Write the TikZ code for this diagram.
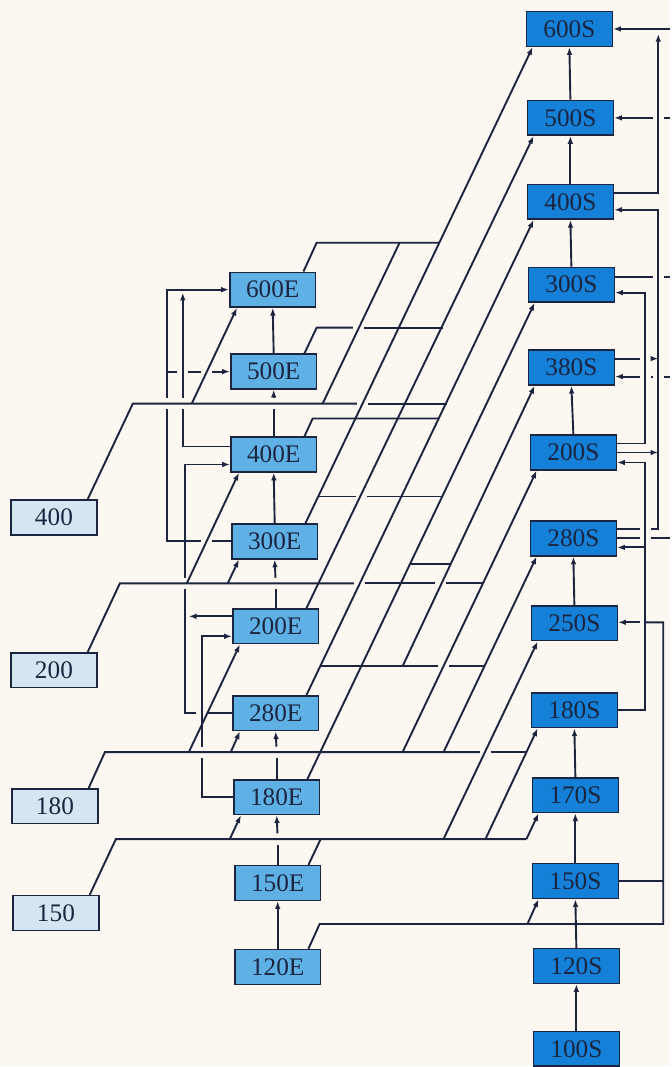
\documentclass[tikz,border=0pt]{standalone}
\usepackage{fontspec}
\setmainfont{Liberation Serif}
\usetikzlibrary{arrows.meta,calc}
\definecolor{paper}{HTML}{FCF7F0}
\definecolor{ink}{HTML}{1B2540}
\definecolor{sblue}{HTML}{1580D8}
\definecolor{eblue}{HTML}{5FB1E5}
\definecolor{lblue}{HTML}{D3E6F2}
\begin{document}
\begin{tikzpicture}[x=0.025cm, y=-0.025cm,
  every node/.style={font=\fontsize{18}{21}\selectfont, text=ink},
  box/.style={draw=ink, line width=1.1pt, minimum width=2.15cm, minimum height=0.87cm, inner sep=0pt},
  sbox/.style={box, fill=sblue},
  ebox/.style={box, fill=eblue},
  lbox/.style={box, fill=lblue},
  wire/.style={draw=ink, line width=1.35pt},
  feed/.style={wire, -{Latex[length=5.5pt,width=4pt]}},
  cutend/.style={shorten >=4pt},
  cutstart/.style={shorten <=4pt}]
  % Paper
  \fill[paper] (0,0) rectangle (671,1067);
  % S column
  \node[sbox] (s600) at (570,29) {600S};
  \node[sbox] (s500) at (571,118) {500S};
  \node[sbox] (s400) at (571,202) {400S};
  \node[sbox] (s300) at (572,285) {300S};
  \node[sbox] (s380) at (572,368) {380S};
  \node[sbox] (s200) at (574,453) {200S};
  \node[sbox] (s280) at (574,539) {280S};
  \node[sbox] (s250) at (575,624) {250S};
  \node[sbox] (s180) at (575,711) {180S};
  \node[sbox] (s170) at (576,796) {170S};
  \node[sbox] (s150) at (576,882) {150S};
  \node[sbox] (s120) at (577,967) {120S};
  \node[sbox] (s100) at (577,1050) {100S};
  % E column
  \node[ebox] (e600) at (273,290) {600E};
  \node[ebox] (e500) at (274,372) {500E};
  \node[ebox] (e400) at (274,455) {400E};
  \node[ebox] (e300) at (275,542) {300E};
  \node[ebox] (e200) at (276,627) {200E};
  \node[ebox] (e280) at (276,714) {280E};
  \node[ebox] (e180) at (277,798) {180E};
  \node[ebox] (e150) at (278,884) {150E};
  \node[ebox] (e120) at (278,968) {120E};
  % Entry levels
  \node[lbox] (l400) at (54,518) {400};
  \node[lbox] (l200) at (54,671) {200};
  \node[lbox] (l180) at (55,807) {180};
  \node[lbox] (l150) at (56,914) {150};

  % Junctions
  \coordinate (m600) at (440,243);
  \coordinate (m500) at (443,328);
  \coordinate (m400) at (439,419);
  \coordinate (m300) at (443,497);
  \coordinate (n300) at (318,497);
  \coordinate (n280) at (321,667);
  \coordinate (p280) at (485,667);
  \coordinate (q400) at (447,404);
  \coordinate (q200) at (484,584);
  \coordinate (q180) at (527,753);
  \coordinate (k380) at (403,667);
  \coordinate (k200) at (403,753);
  \coordinate (k280) at (444,753);
  \coordinate (k250) at (444,840);
  \coordinate (k180) at (486,840);
  \coordinate (k170) at (527,840);
  \coordinate (k150) at (528,925);
  \coordinate (n150) at (321,840);
  \coordinate (r250) at (664,925);
  \coordinate (edge600) at (671,29);
  \coordinate (edge500) at (671,118);
  \coordinate (edge300) at (671,277);
  \coordinate (edge380) at (671,377);
  \coordinate (edge280) at (671,539);

  % Vertical chains
  \foreach \a/\b in {s100/s120, s120/s150, s150/s170, s170/s180, s250/s280,
                     s200/s380, s300/s400, s400/s500, s500/s600,
                     e120/e150, e300/e400, e500/e600}
    \draw[feed] (\a.north) -- (\b.south);
  \foreach \a/\b/\y in {e150/e180/840, e180/e280/753, e200/e300/584, e400/e500/404} {
    \draw[wire, cutend] (\a.north) -- (\a.north |- 0,\y);
    \draw[feed, cutstart] (\a.north |- 0,\y) -- (\b.south);
  }

  % Long diagonals into the S column
  \draw[feed] ($(e300.north east)+(-13,0)$) -- ($(s600.south west)+(7,0)$);
  \draw[feed] ($(e200.north east)+(-13,0)$) -- ($(s500.south west)+(7,0)$);
  \draw[feed] ($(e280.north east)+(-13,0)$) -- ($(s400.south west)+(7,0)$);
  \draw[feed] ($(e180.north east)+(-13,0)$) -- ($(s300.south west)+(7,0)$);
  \draw[feed] (k380) -- ($(s380.south west)+(7,0)$);
  \draw[feed] (k200) -- ($(s200.south west)+(7,0)$);
  \draw[feed] (k280) -- ($(s280.south west)+(7,0)$);
  \draw[feed] (k250) -- ($(s250.south west)+(7,0)$);
  \draw[feed] (k180) -- ($(s180.south west)+(7,0)$);
  \draw[feed] (k170) -- ($(s170.south west)+(7,0)$);
  \draw[feed] (k150) -- ($(s150.south west)+(7,0)$);

  % Horizontal buses
  \draw[wire] ($(e600.north east)+(-13,0)$) -- (317,243) -- (m600);
  \draw[wire, cutend] ($(e500.north east)+(-13,0)$) -- (317,328) -- (359,328);
  \draw[wire, cutstart] (359,328) -- (m500);
  \draw[wire] ($(e400.north east)+(-13,0)$) -- (313,419) -- (m400);
  \draw[wire, cutend] (n300) -- (362,497);
  \draw[wire, cutstart] (362,497) -- (m300);
  \draw[wire, cutend] (n280) -- (444,667);
  \draw[wire, cutstart] (444,667) -- (p280);
  \draw[wire, cutend] ($(l400.north east)+(-10,0)$) -- (133,404) -- (363,404);
  \draw[wire, cutstart] (363,404) -- (q400);
  \draw[wire, cutend] ($(l200.north east)+(-10,0)$) -- (120,584) -- (360,584);
  \draw[wire, cutstart, cutend] (360,584) -- (441,584);
  \draw[wire, cutstart] (441,584) -- (q200);
  \draw[wire, cutend] ($(l180.north east)+(-10,0)$) -- (105,753) -- (486,753);
  \draw[wire, cutstart] (486,753) -- (q180);
  \draw[wire] ($(l150.north east)+(-10,0)$) -- (116,840) -- (k170);
  \draw[wire] ($(e150.north east)+(-13,0)$) -- (n150);
  \draw[wire] ($(e120.north east)+(-13,0)$) -- (320,925) -- (r250) -- (664,623) -- (646,623);
  \draw[feed, cutstart] (646,623) -- (s250.east |- 0,623);
  \draw[wire] (s150.east) -- (664,882);
  \draw[wire] (410,565) -- (450,565);

  % Short links into the E column
  \draw[wire] (323,404) -- (400,243);
  \draw[feed] (192,404) -- ($(e600.south west)+(8,0)$);
  \draw[feed] (187,584) -- ($(e400.south west)+(9,0)$);
  \draw[feed] (228,584) -- ($(e300.south west)+(8,0)$);
  \draw[feed] (189,753) -- ($(e200.south west)+(8,0)$);
  \draw[feed] (231,753) -- ($(e280.south west)+(8,0)$);
  \draw[feed] (230,840) -- ($(e180.south west)+(8,0)$);

  % Left-hand loops
  \draw[wire, cutend] (e300.west) -- (207,542);
  \draw[wire, cutstart, cutend] (207,542) -- (167,542) -- (167,404);
  \draw[feed, cutstart] (167,404) -- (167,290) -- (e600.west);
  \draw[wire, cutend] (167,372) -- (183,372);
  \draw[wire, cutstart, cutend] (183,372) -- (207,372);
  \draw[feed, cutstart] (207,372) -- (e500.west);
  \draw[wire, cutend] (e400.west |- 0,447) -- (183,447) -- (183,404);
  \draw[feed, cutstart] (183,404) -- (183,293);
  \draw[wire, cutend] (e280.west) -- (202,714);
  \draw[wire, cutstart, cutend] (202,714) -- (185,714) -- (185,584);
  \draw[feed, cutstart] (185,584) -- (185,465) -- (e400.west |- 0,465);
  \draw[feed] (e200.west |- 0,617) -- (189,617);
  \draw[wire, cutend] (e180.west) -- (202,798) -- (202,753);
  \draw[feed, cutstart] (202,753) -- (202,637) -- (e200.west |- 0,637);

  % Right-hand loops
  \draw[feed] (edge600) -- (s600.east);
  \draw[feed] (s400.east |- 0,193) -- (659,193) -- (659,34);
  \draw[wire, cutend] (edge500) -- (659,118);
  \draw[feed, cutstart] (659,118) -- (s500.east);
  \draw[wire, cutend] (s280.east |- 0,530) -- (646,530);
  \draw[feed, cutstart] (646,530) -- (659,530) -- (659,210) -- (s400.east |- 0,210);
  \draw[wire, cutend] (s300.east |- 0,277) -- (659,277);
  \draw[wire, cutstart] (659,277) -- (edge300);
  \draw[feed] (s200.east |- 0,444) -- (646,444) -- (646,293) -- (s300.east |- 0,293);
  \draw[wire, cutend] (s380.east |- 0,359) -- (646,359);
  \draw[feed, cutstart] (646,359) -- (659,359);
  \draw[wire, cutend] (edge380) -- (659,377);
  \draw[wire, cutstart, cutend] (659,377) -- (646,377);
  \draw[feed, cutstart] (646,377) -- (s380.east |- 0,377);
  \draw[feed] (s200.east |- 0,453) -- (659,453);
  \draw[feed] (s180.east) -- (646,711) -- (646,463) -- (s200.east |- 0,463);
  \draw[feed] (646,548) -- (s280.east |- 0,548);
  \draw[wire, cutend] (s280.east) -- (646,539);
  \draw[wire, cutstart] (646,539) -- (edge280);
\end{tikzpicture}
\end{document}
